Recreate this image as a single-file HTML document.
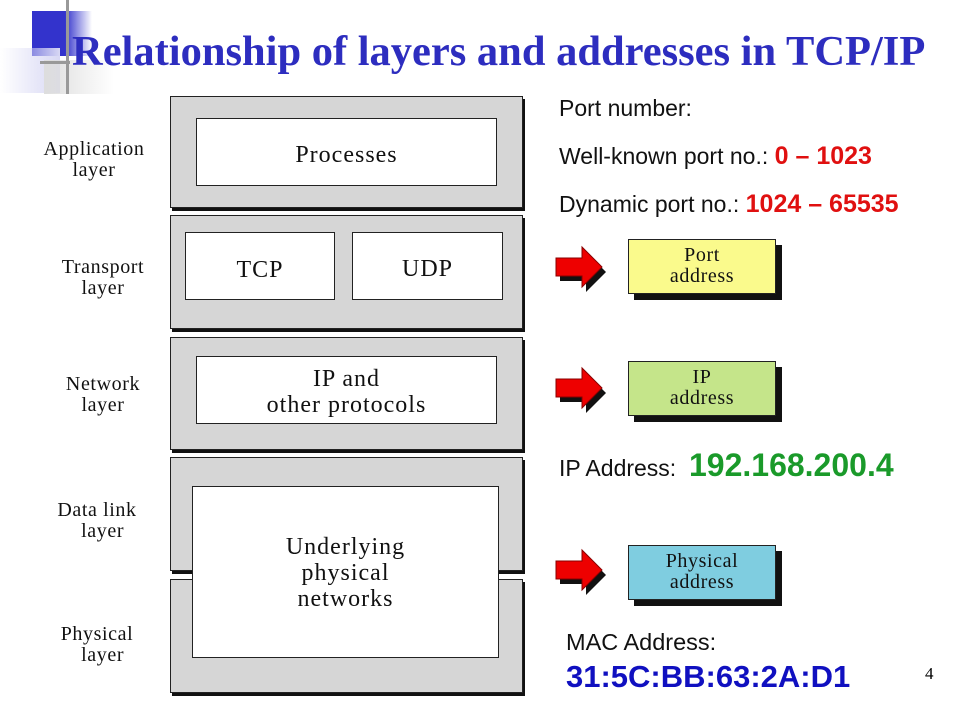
<!DOCTYPE html>
<html><head><style>
body{margin:0;width:960px;height:720px;background:#fff;position:relative;overflow:hidden;font-family:"Liberation Serif",serif}
div{position:absolute;box-sizing:border-box}
.lay{left:170px;width:353px;background:#d6d6d6;border:1.5px solid #222;box-shadow:2px 3px 0 #111}
.in{background:#fff;border:1.5px solid #222;display:flex;align-items:center;justify-content:center;text-align:center;font-size:24px;letter-spacing:1px;line-height:26px;color:#111}
.lbl{font-size:20px;letter-spacing:0.6px;line-height:21px;text-align:center;color:#111;width:130px}
.s{font-family:"Liberation Sans",sans-serif;font-size:23px;color:#111;white-space:nowrap}
.ad{left:628px;width:148px;height:55px;border:1.5px solid #222;box-shadow:6px 6px 0 #111;text-align:center;font-size:20px;letter-spacing:0.6px;line-height:21px;padding-top:5px;color:#111}
</style></head><body>
<div style="left:32px;top:11px;width:60px;height:45px;background:linear-gradient(90deg,#3333cc 55%,rgba(51,51,204,0))"></div>
<div style="left:0;top:48px;width:60px;height:45px;background:linear-gradient(90deg,rgba(200,200,240,0),#d8d8f4)"></div>
<div style="left:44px;top:60px;width:70px;height:34px;background:linear-gradient(90deg,#ddd,rgba(200,200,200,0))"></div>
<div style="left:66px;top:0;width:3px;height:94px;background:#999"></div>
<div style="left:40px;top:61px;width:30px;height:3px;background:#999"></div>
<div style="left:72px;top:27px;font-size:42.5px;font-weight:bold;color:#2d2dbf;white-space:nowrap;line-height:50px">Relationship of layers and addresses in TCP/IP</div>

<div class="lay" style="top:96px;height:112px"></div>
<div class="lay" style="top:215px;height:114px"></div>
<div class="lay" style="top:337px;height:113px"></div>
<div class="lay" style="top:457px;height:114px"></div>
<div class="lay" style="top:579px;height:114px"></div>
<div class="in" style="left:196px;top:118px;width:301px;height:68px;padding-top:6px">Processes</div>
<div class="in" style="left:185px;top:232px;width:150px;height:68px;padding-top:8px">TCP</div>
<div class="in" style="left:352px;top:232px;width:151px;height:68px;padding-top:6px">UDP</div>
<div class="in" style="left:196px;top:356px;width:301px;height:68px;padding-top:4px">IP and<br>other protocols</div>
<div class="in" style="left:192px;top:486px;width:307px;height:172px;padding-top:2px">Underlying<br>physical<br>networks</div>

<div class="lbl" style="left:29px;top:139px">Application<br>layer</div>
<div class="lbl" style="left:38px;top:257px">Transport<br>layer</div>
<div class="lbl" style="left:38px;top:374px">Network<br>layer</div>
<div class="lbl" style="left:32px;top:500px">Data link<br>&nbsp;&nbsp;layer</div>
<div class="lbl" style="left:32px;top:624px">Physical<br>&nbsp;&nbsp;layer</div>

<div class="s" style="left:559px;top:95px">Port number:</div>
<div class="s" style="left:559px;top:142px">Well-known port no.: <b style="color:#e01010;font-size:25px">0 – 1023</b></div>
<div class="s" style="left:559px;top:190px">Dynamic port no.: <b style="color:#e01010;font-size:25px">1024 – 65535</b></div>
<div class="s" style="left:559px;top:447px">IP Address: &nbsp;<b style="color:#1a9a2a;font-size:32px">192.168.200.4</b></div>
<div class="s" style="left:566px;top:629px;font-size:23.5px">MAC Address:</div>
<div class="s" style="left:566px;top:659px;font-size:31px;font-weight:bold;color:#1010c0">31:5C:BB:63:2A:D1</div>
<div style="left:925px;top:664px;font-size:17px">4</div>

<div class="ad" style="top:239px;background:#fafa8c">Port<br>address</div>
<div class="ad" style="top:361px;background:#c5e58a">IP<br>address</div>
<div class="ad" style="top:545px;background:#7fcde0">Physical<br>address</div>

<svg style="position:absolute;left:0;top:0" width="960" height="720">
<defs><path id="ar" d="M0,-9 H26 V-20 L46,0 L26,20 V9 H0 Z"/></defs>
<g transform="translate(560,272)"><use href="#ar" fill="#111"/></g>
<g transform="translate(556,267)"><use href="#ar" fill="#e00" stroke="#800" stroke-width="1"/></g>
<g transform="translate(560,393)"><use href="#ar" fill="#111"/></g>
<g transform="translate(556,388)"><use href="#ar" fill="#e00" stroke="#800" stroke-width="1"/></g>
<g transform="translate(560,575)"><use href="#ar" fill="#111"/></g>
<g transform="translate(556,570)"><use href="#ar" fill="#e00" stroke="#800" stroke-width="1"/></g>
</svg>
</body></html>
